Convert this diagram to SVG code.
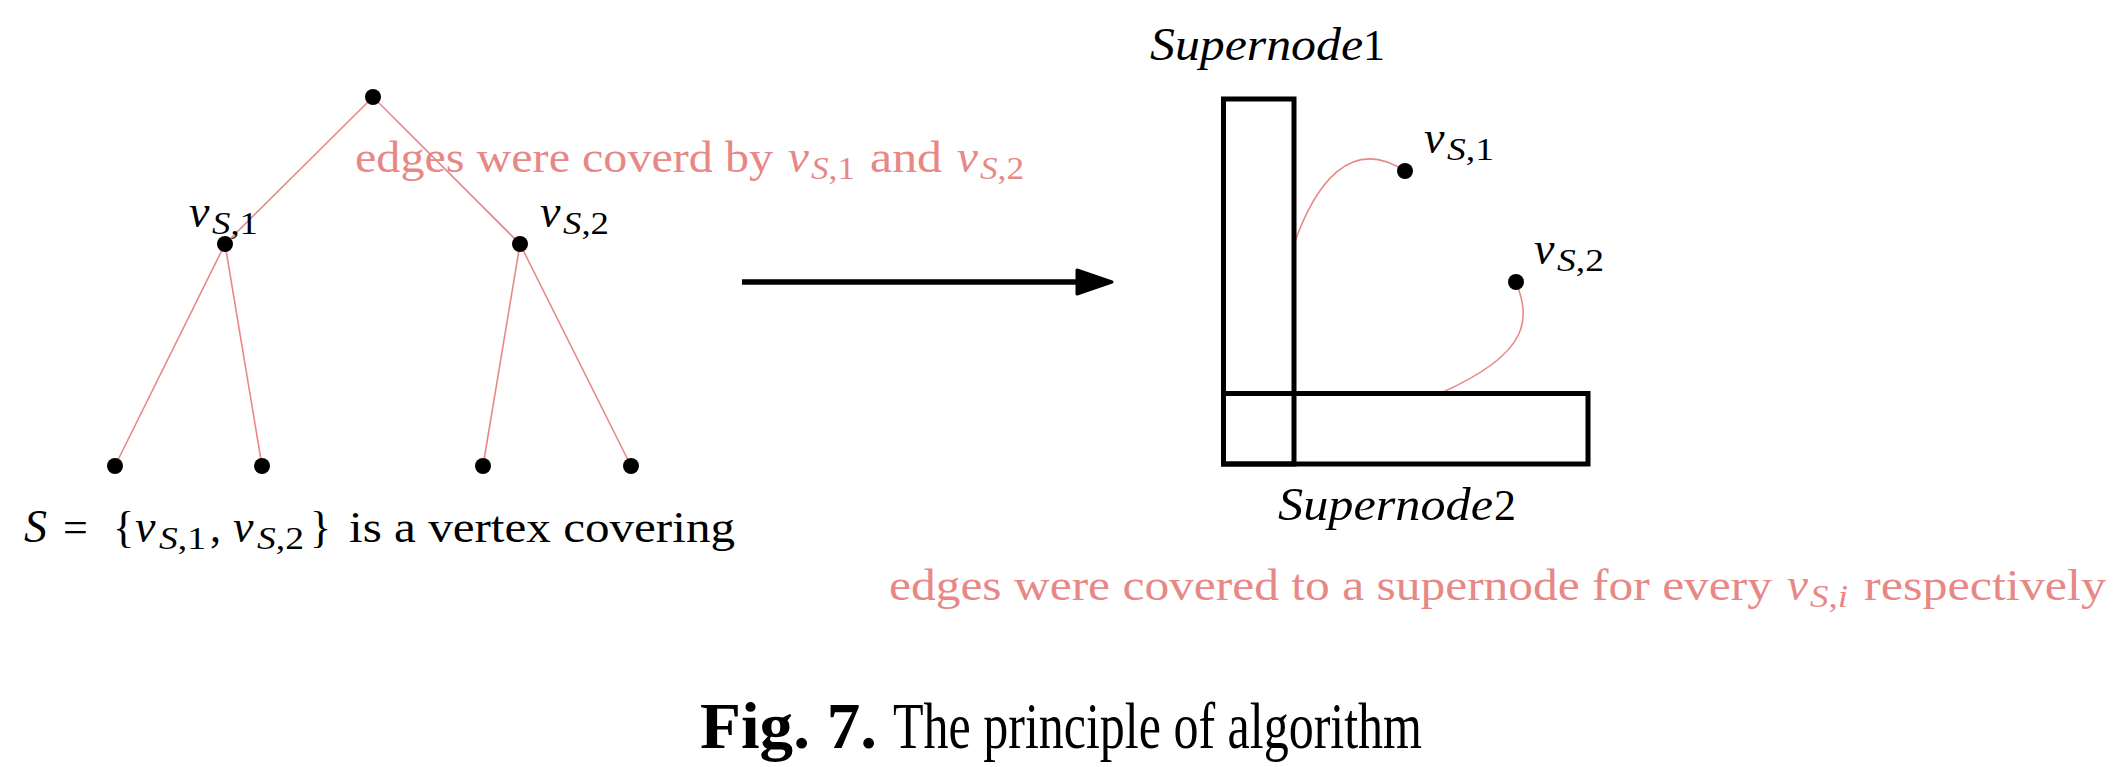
<svg xmlns="http://www.w3.org/2000/svg" width="2116" height="767" viewBox="0 0 2116 767">
<style>
  text { font-family: "Liberation Serif", "Times New Roman", serif; }
  .m { font-size: 44px; fill: #000; }
  .mi { font-size: 46px; font-style: italic; fill: #000; }
  .s { font-size: 31px; fill: #000; }
  .r { font-size: 45px; fill: #e88886; }
  .ri { font-size: 47px; font-style: italic; fill: #e88886; }
  .rs { font-size: 31px; fill: #e88886; }
  .it { font-style: italic; }
  .dot { fill: #000; }
  .edge { stroke: #e88886; stroke-width: 1.6; fill: none; }
  .box { stroke: #000; stroke-width: 5; fill: none; stroke-linejoin: miter; }
  .cap { font-size: 66px; fill: #000; }
</style>
<rect width="2116" height="767" fill="#fff"/>

<g id="connectors">
  <line class="edge" x1="373" y1="97" x2="225" y2="244"/>
  <line class="edge" x1="373" y1="97" x2="520" y2="244"/>
  <line class="edge" x1="225" y1="244" x2="115" y2="466"/>
  <line class="edge" x1="225" y1="244" x2="262" y2="466"/>
  <line class="edge" x1="520" y1="244" x2="483" y2="466"/>
  <line class="edge" x1="520" y1="244" x2="631" y2="466"/>
  <path class="edge" d="M1294,244 C1315,185 1350,135 1405,171"/>
  <path class="edge" d="M1516,282 C1530,318 1532,352 1443,392"/>
  <g id="arrow">
    <line x1="742" y1="282" x2="1080" y2="282" stroke="#000" stroke-width="5.3"/>
    <polygon points="1077,270 1112,282 1077,294" fill="#000" stroke="#000" stroke-width="3" stroke-linejoin="round"/>
  </g>
</g>

<g id="root"><circle class="dot" cx="373" cy="97" r="8"/></g>
<g id="vS1-left">
  <circle class="dot" cx="225" cy="244" r="8"/>
  <text class="mi" x="189" y="227">v</text>
  <text class="s" x="212" y="234" textLength="46" lengthAdjust="spacingAndGlyphs"><tspan class="it">S</tspan>,1</text>
</g>
<g id="vS2-left">
  <circle class="dot" cx="520" cy="244" r="8"/>
  <text class="mi" x="540" y="227">v</text>
  <text class="s" x="563" y="234" textLength="46" lengthAdjust="spacingAndGlyphs"><tspan class="it">S</tspan>,2</text>
</g>
<g id="leaf1"><circle class="dot" cx="115" cy="466" r="8"/></g>
<g id="leaf2"><circle class="dot" cx="262" cy="466" r="8"/></g>
<g id="leaf3"><circle class="dot" cx="483" cy="466" r="8"/></g>
<g id="leaf4"><circle class="dot" cx="631" cy="466" r="8"/></g>

<g id="label-top-red">
  <text class="r" x="355" y="172" textLength="418" lengthAdjust="spacingAndGlyphs">edges were coverd by</text>
  <text class="ri" x="788" y="172">v</text>
  <text class="rs" x="811" y="179" textLength="44" lengthAdjust="spacingAndGlyphs"><tspan class="it">S</tspan>,1</text>
  <text class="r" x="870" y="172" textLength="72" lengthAdjust="spacingAndGlyphs">and</text>
  <text class="ri" x="957" y="172">v</text>
  <text class="rs" x="980" y="179" textLength="44" lengthAdjust="spacingAndGlyphs"><tspan class="it">S</tspan>,2</text>
</g>

<g id="label-vertex-cover">
  <text class="mi" x="24" y="542">S</text>
  <text class="m" x="63" y="542">=</text>
  <text class="m" x="113" y="542">{</text>
  <text class="mi" x="135" y="542">v</text>
  <text class="s" x="159" y="549" textLength="47" lengthAdjust="spacingAndGlyphs"><tspan class="it">S</tspan>,1</text>
  <text class="m" x="210" y="542">,</text>
  <text class="mi" x="233" y="542">v</text>
  <text class="s" x="257" y="549" textLength="47" lengthAdjust="spacingAndGlyphs"><tspan class="it">S</tspan>,2</text>
  <text class="m" x="310" y="542">}</text>
  <text class="m" x="349" y="542" textLength="386" lengthAdjust="spacingAndGlyphs">is a vertex covering</text>
</g>

<g id="supernode1">
  <rect class="box" x="1223.5" y="99" width="70.5" height="365"/>
  <text class="mi" x="1150" y="60" textLength="213" lengthAdjust="spacingAndGlyphs">Supernode</text>
  <text class="m" x="1363" y="60">1</text>
</g>
<g id="supernode2">
  <rect class="box" x="1223.5" y="393.5" width="364.5" height="70.5"/>
  <text class="mi" x="1278" y="520" textLength="215" lengthAdjust="spacingAndGlyphs">Supernode</text>
  <text class="m" x="1494" y="520">2</text>
</g>

<g id="vS1-right">
  <circle class="dot" cx="1405" cy="171" r="8"/>
  <text class="mi" x="1424" y="153">v</text>
  <text class="s" x="1447" y="160" textLength="47" lengthAdjust="spacingAndGlyphs"><tspan class="it">S</tspan>,1</text>
</g>
<g id="vS2-right">
  <circle class="dot" cx="1516" cy="282" r="8"/>
  <text class="mi" x="1534" y="264">v</text>
  <text class="s" x="1557" y="271" textLength="47" lengthAdjust="spacingAndGlyphs"><tspan class="it">S</tspan>,2</text>
</g>

<g id="label-bottom-red">
  <text class="r" x="889" y="600" textLength="883" lengthAdjust="spacingAndGlyphs">edges were covered to a supernode for every</text>
  <text class="ri" x="1787" y="600">v</text>
  <text class="rs" x="1810" y="607" textLength="38" lengthAdjust="spacingAndGlyphs"><tspan class="it">S</tspan>,<tspan class="it">i</tspan></text>
  <text class="r" x="1864" y="600" textLength="242" lengthAdjust="spacingAndGlyphs">respectively</text>
</g>

<g id="caption">
  <text class="cap" x="700" y="748" font-weight="bold" textLength="177" lengthAdjust="spacingAndGlyphs">Fig. 7.</text>
  <text class="cap" x="893" y="748" textLength="529" lengthAdjust="spacingAndGlyphs">The principle of algorithm</text>
</g>
</svg>
